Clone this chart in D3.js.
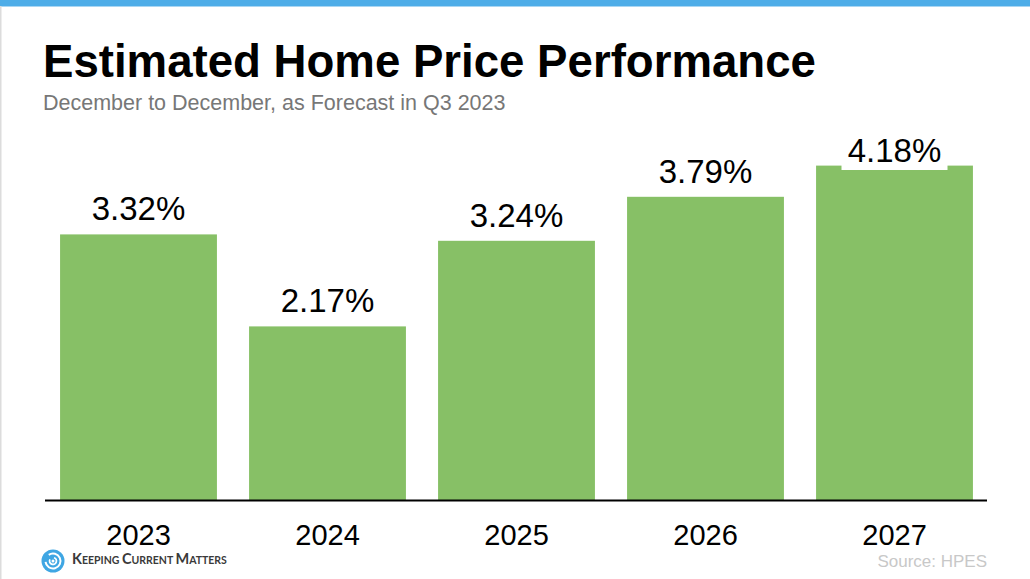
<!DOCTYPE html>
<html>
<head>
<meta charset="utf-8">
<script src="https://cdn.jsdelivr.net/npm/d3@7"></script>
<style>
  html, body { margin: 0; padding: 0; background: #fff; }
  svg { display: block; font-family: "Liberation Sans", Arial, sans-serif; }
</style>
</head>
<body>
<svg id="chart" width="1030" height="579"></svg>
<script>
const years = ["2023", "2024", "2025", "2026", "2027"];
const growth = [3.32, 2.17, 3.24, 3.79, 4.18];
const title = "Estimated Home Price Performance";
const subtitle = "December to December, as Forecast in Q3 2023";
const source = "Source: HPES";

const W = 1030, H = 579;
const svg = d3.select("#chart");
const data = years.map((y, i) => ({ year: y, value: growth[i] }));

// frame: blue band on top, thin grey line on the left
svg.append("rect").attr("x", 0).attr("y", 0).attr("width", W).attr("height", 6).attr("fill", "#4EADE8");
svg.append("rect").attr("x", 0).attr("y", 6).attr("width", W).attr("height", 1).attr("fill", "#a9d6f3");
svg.append("rect").attr("x", 0).attr("y", 6).attr("width", 1.5).attr("height", H).attr("fill", "#dcdcdc");

svg.append("text").attr("x", 43).attr("y", 77)
  .attr("font-size", 45.6).attr("font-weight", "bold").attr("fill", "#000")
  .text(title);
svg.append("text").attr("x", 43).attr("y", 110)
  .attr("font-size", 21.5).attr("fill", "#777")
  .text(subtitle);

const x = d3.scaleBand().domain(years).range([44, 989]).paddingInner(0.17).paddingOuter(0.085);
const y = d3.scaleLinear().domain([0, 5]).range([500, 100]);

// bars
svg.append("g").selectAll("rect").data(data).enter().append("rect")
  .attr("x", d => x(d.year))
  .attr("y", d => y(d.value))
  .attr("width", x.bandwidth())
  .attr("height", d => y(0) - y(d.value))
  .attr("fill", "#87C066");

// value labels, kept below the subtitle; white box behind
const labelMin = 162;
const labels = svg.append("g").selectAll("g").data(data).enter().append("g")
  .attr("transform", d => `translate(${x(d.year) + x.bandwidth() / 2},${Math.max(y(d.value) - 14, labelMin)})`);
labels.append("rect")
  .attr("x", -53).attr("y", -30).attr("width", 106).attr("height", 38)
  .attr("fill", "#fff");
labels.append("text")
  .attr("text-anchor", "middle")
  .attr("font-size", 33).attr("fill", "#000")
  .text(d => d.value.toFixed(2) + "%");

// baseline axis
const axis = svg.append("g").attr("transform", `translate(0,${y(0)})`)
  .call(d3.axisBottom(x).tickSize(0).tickPadding(0));
axis.select(".domain").attr("d", "M45,0.5H987").attr("stroke", "#000").attr("stroke-width", 2);
axis.selectAll(".tick text")
  .attr("y", 45).attr("dy", 0)
  .attr("font-size", 29).attr("fill", "#000")
  .attr("font-family", "Liberation Sans, Arial, sans-serif");

// source
svg.append("text").attr("x", 987).attr("y", 567).attr("text-anchor", "end")
  .attr("font-size", 17).attr("fill", "#c8c8c8")
  .text(source);

// logo
const logo = svg.append("g").attr("transform", "translate(53,561)");
logo.append("circle").attr("r", 11.5).attr("fill", "#3FA6E3");
const arc = d3.arc();
logo.append("path").attr("fill", "#fff")
  .attr("d", arc({ innerRadius: 6.5, outerRadius: 8.5, startAngle: -0.6, endAngle: 4.6 }));
logo.append("path").attr("fill", "#fff")
  .attr("d", arc({ innerRadius: 2.5, outerRadius: 4.3, startAngle: 0.3, endAngle: 5.2 }));
logo.append("circle").attr("r", 1.5).attr("fill", "#fff").attr("cx", 0).attr("cy", 0);

const brand = svg.append("text").attr("x", 72).attr("y", 564)
  .attr("font-family", "Lato, 'Open Sans', sans-serif").attr("fill", "#3a3a3a")
  .attr("font-weight", "bold");
[["K", 14.5], ["EEPING ", 10.5], ["C", 14.5], ["URRENT ", 10.5], ["M", 14.5], ["ATTERS", 10.5]].forEach(([t, s]) => {
  brand.append("tspan").attr("font-size", s).text(t);
});
</script>
</body>
</html>
